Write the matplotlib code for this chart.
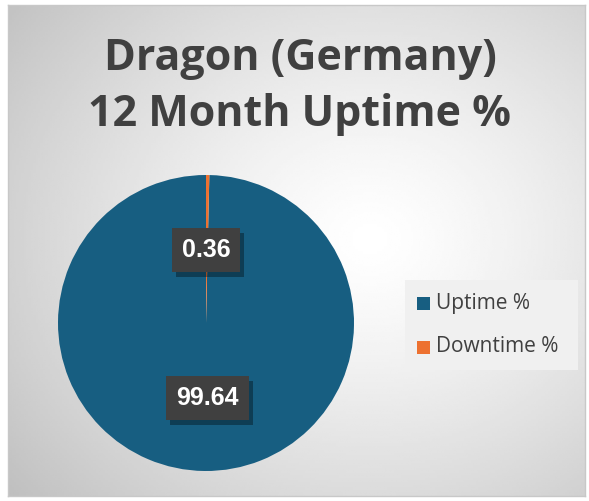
"""
Pie chart of 12 month uptime vs downtime for the Dragon (Germany) site.
"""

import numpy as np
import matplotlib
matplotlib.use("Agg")
import matplotlib.pyplot as plt
from matplotlib.patches import Rectangle
import matplotlib.patheffects as pe

labels = ["Uptime %", "Downtime %"]
values = [99.64, 0.36]
colors = ["#175e81", "#ed7130"]
title_lines = ["Dragon (Germany)", "12 Month Uptime %"]

W, H = 589, 501
fig = plt.figure(figsize=(W / 100, H / 100), dpi=100)
fig.patch.set_facecolor("white")

# chart area with radial gradient background
bg = fig.add_axes([8 / W, 1 - 496 / H, 577 / W, 491 / H])
yy, xx = np.mgrid[0:200, 0:240]
cx, cy = 150, 95
r = np.sqrt(((xx - cx) / 240) ** 2 + ((yy - cy) / 200) ** 2)
r = r / r.max()
shade = 1.0 - 0.25 * r ** 1.3
bg.imshow(shade, cmap="gray", vmin=0, vmax=1, aspect="auto", interpolation="bilinear")
bg.set_xticks([])
bg.set_yticks([])
for s in bg.spines.values():
    s.set_color("#c8c8c8")
    s.set_linewidth(1)

# title
for i, line in enumerate(title_lines):
    fig.text(300 / W, 1 - (58 + 56 * i) / H, line, ha="center", va="center",
             fontsize=31, fontweight="bold", color="#404040", family="Open Sans")

# pie
cxp, cyp, rad = 206, 323, 148
ax = fig.add_axes([(cxp - rad) / W, 1 - (cyp + rad) / H, 2 * rad / W, 2 * rad / H])
wedges, _ = ax.pie(values, colors=colors, startangle=90, counterclock=True,
                   wedgeprops=dict(linewidth=0))
ax.set_xlim(-1, 1)
ax.set_ylim(-1, 1)
ax.set_aspect("equal")
ax.axis("off")

# data labels in dark boxes with a soft shadow
label_pos = [(0.01, -0.51), (0.0, 0.49)]
for v, (lx, ly) in zip(values, label_pos):
    t = ax.text(lx, ly, f"{v:.2f}", ha="center", va="center", fontsize=18,
                fontweight="bold", color="white", family="Liberation Sans",
                bbox=dict(boxstyle="square,pad=0.4", fc="#404040", ec="none"))
    t.get_bbox_patch().set_path_effects(
        [pe.SimplePatchShadow(offset=(3, -3), shadow_rgbFace="black", alpha=0.35),
         pe.Normal()])

# legend
leg_ax = fig.add_axes([405 / W, 1 - 370 / H, 173 / W, 90 / H])
leg_ax.set_xlim(0, 173)
leg_ax.set_ylim(90, 0)
leg_ax.axis("off")
leg_ax.add_patch(Rectangle((0, 0), 173, 90, fc="#f0f0f0", ec="none"))
for i, (lab, col) in enumerate(zip(labels, colors)):
    y = 23 + i * 44
    leg_ax.add_patch(Rectangle((12, y - 6), 13, 13, fc=col, ec="none"))
    leg_ax.text(31, y, lab, ha="left", va="center", fontsize=15,
                color="#404040", family="Open Sans")

fig.savefig("out.png", dpi=100)
